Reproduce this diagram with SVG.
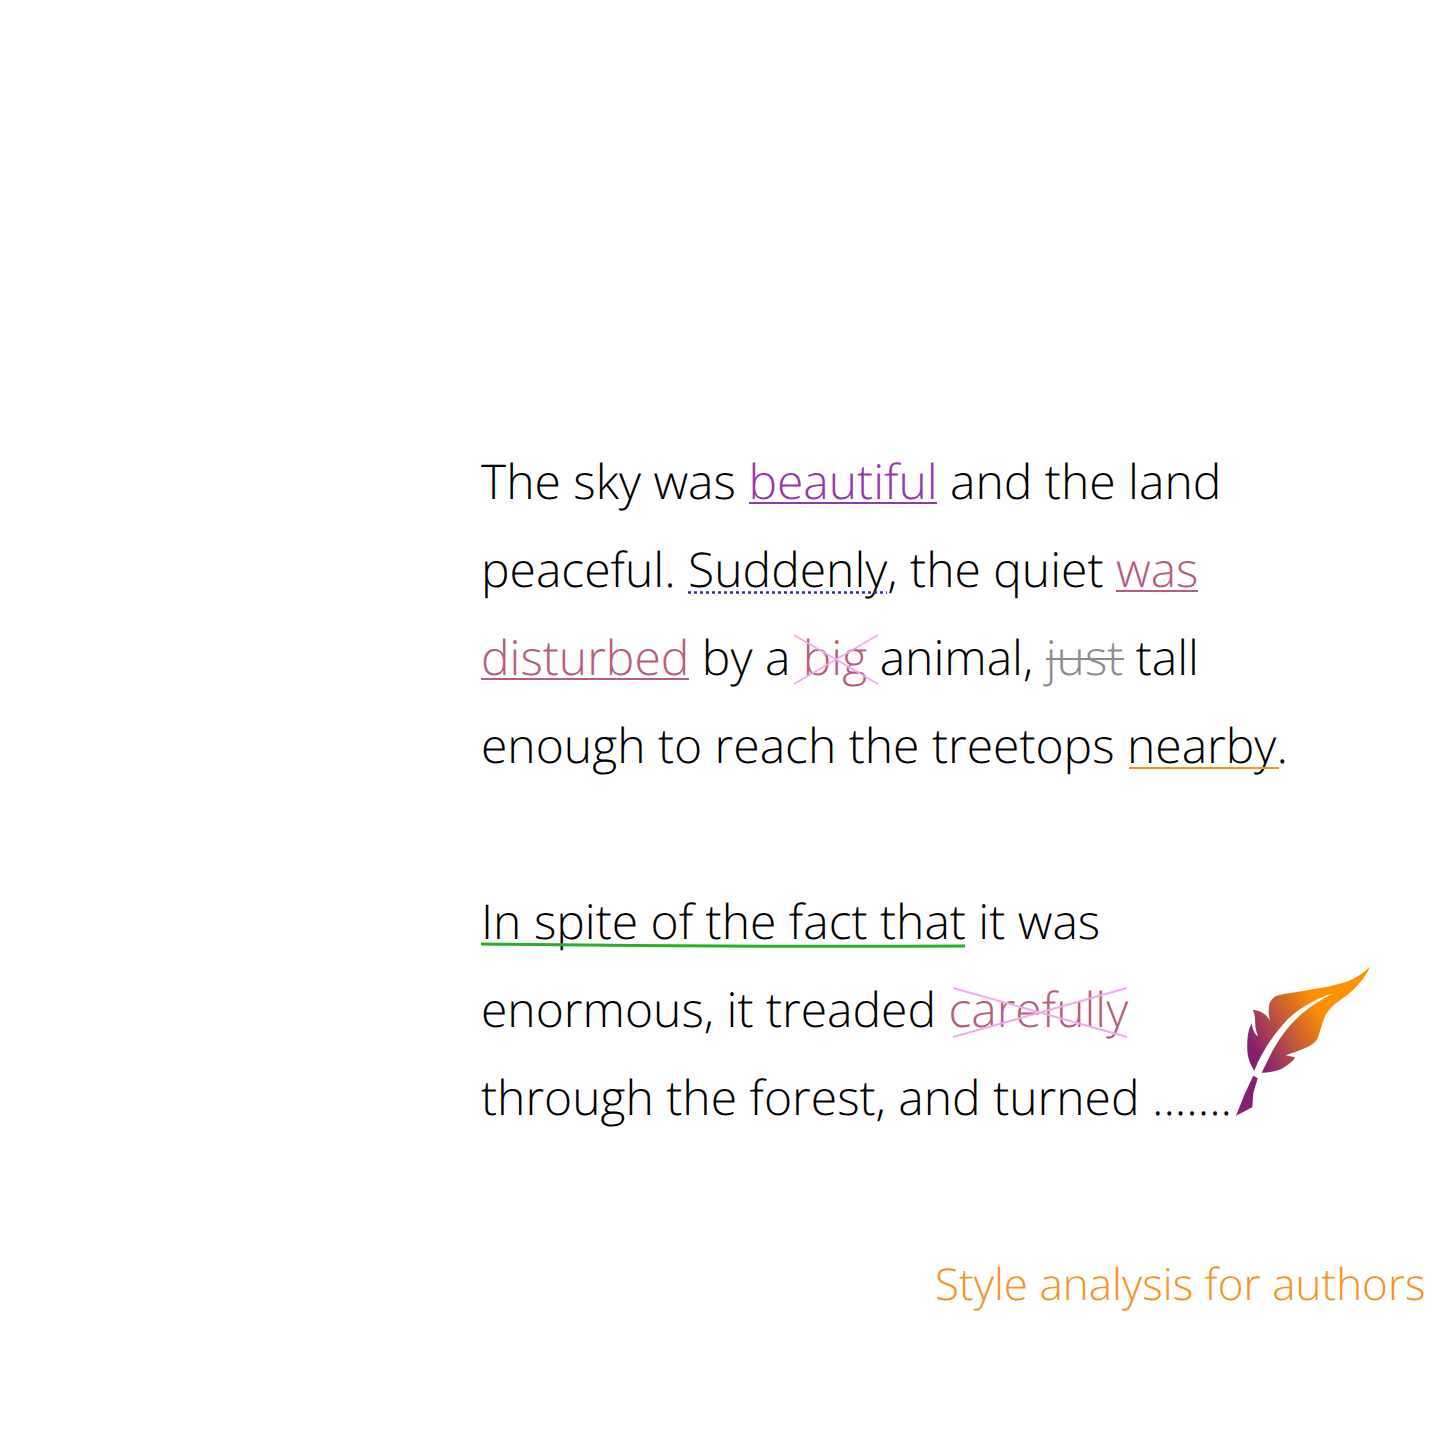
<svg xmlns="http://www.w3.org/2000/svg" width="1440" height="1440" viewBox="0 0 1440 1440">
<defs>
<linearGradient id="q" gradientUnits="userSpaceOnUse" x1="1254" y1="1050" x2="1322" y2="1012"><stop offset="0" stop-color="#851f72"/><stop offset="1" stop-color="#ff9000"/></linearGradient>
</defs>
<style>
text{font-family:"Open Sans",sans-serif;font-weight:300;font-size:48px;fill:#000;text-rendering:geometricPrecision}
.p{fill:#9536ab}.r{fill:#b85c7e}.g{fill:#8c8c8c}
.x{stroke:#f2aaee;stroke-width:2;fill:none}
</style>
<rect width="1440" height="1440" fill="#fff"/>
<g id="text" opacity="0.999">
<text x="481" y="499">The sky was <tspan class="p">beautiful</tspan> and the land</text>
<text x="481" y="587">peaceful. Suddenly, the quiet <tspan class="r">was</tspan></text>
<text x="481" y="675"><tspan class="r">disturbed</tspan> by a <tspan class="r">big</tspan> animal, <tspan class="g">just</tspan> tall</text>
<text x="481" y="763">enough to reach the treetops nearby.</text>
<text x="481" y="939">In spite of the fact that it was</text>
<text x="481" y="1027">enormous, it treaded <tspan class="r">carefully</tspan></text>
<text x="481" y="1115">through the forest, and turned .......</text>
<text x="935" y="1300" style="font-size:44px;fill:#f7931e">Style analysis for authors</text>
</g>
<g id="marks" fill="none">
<path d="M749 503H937" stroke="#9536ab" stroke-width="2"/>
<path d="M688 592.500H887" stroke="#2f2fb0" stroke-width="2.500" stroke-dasharray="3 3"/>
<path d="M1116 591H1198M481 679H689" stroke="#b85c7e" stroke-width="2"/>
<path d="M794 635L878 684M878 635L794 684M953 988L1127 1037M953 1037L1127 988" class="x"/>
<path d="M1046 659H1124" stroke="#8c8c8c" stroke-width="2"/>
<path d="M1129 768H1279" stroke="#f7931e" stroke-width="2"/>
<path d="M481 944Q720 947 965 946" stroke="#2aae2a" stroke-width="3"/>
</g>
<g id="quill" fill="url(#q)">
<path d="M1370 966.700C1358 978 1346 984 1320 988C1300 992 1285 993 1276 996C1269 1000 1267 1008 1270 1020.700C1266 1013 1258 1010 1252.700 1010C1256 1016 1254.500 1022 1256 1030C1258 1036 1259 1042 1259 1037.300C1255 1035 1252.500 1030 1251.700 1023.300C1248 1030 1247 1038 1247.300 1050C1247.500 1058 1251 1066 1254.300 1070.700C1262 1052 1272 1036 1288 1019C1302 1006 1318 998 1333.300 993.300C1316 1002 1298 1014 1284 1033C1274 1046 1268 1060 1261.700 1072.700C1270 1072.500 1279 1071 1285 1066.700C1291 1063 1294 1060 1295 1057.300L1285.700 1055.300C1300 1050 1312 1047 1316.700 1040C1320 1034 1321 1024 1326.700 1013.300C1334 1002 1345 998 1353 990C1361 982 1366 976 1370 966.700Z"/>
<path d="M1253.300 1075.700L1257.700 1078.300L1253.300 1093.300L1252.300 1107.300L1236 1115.700L1245 1093.300Z"/>
</g>
</svg>
